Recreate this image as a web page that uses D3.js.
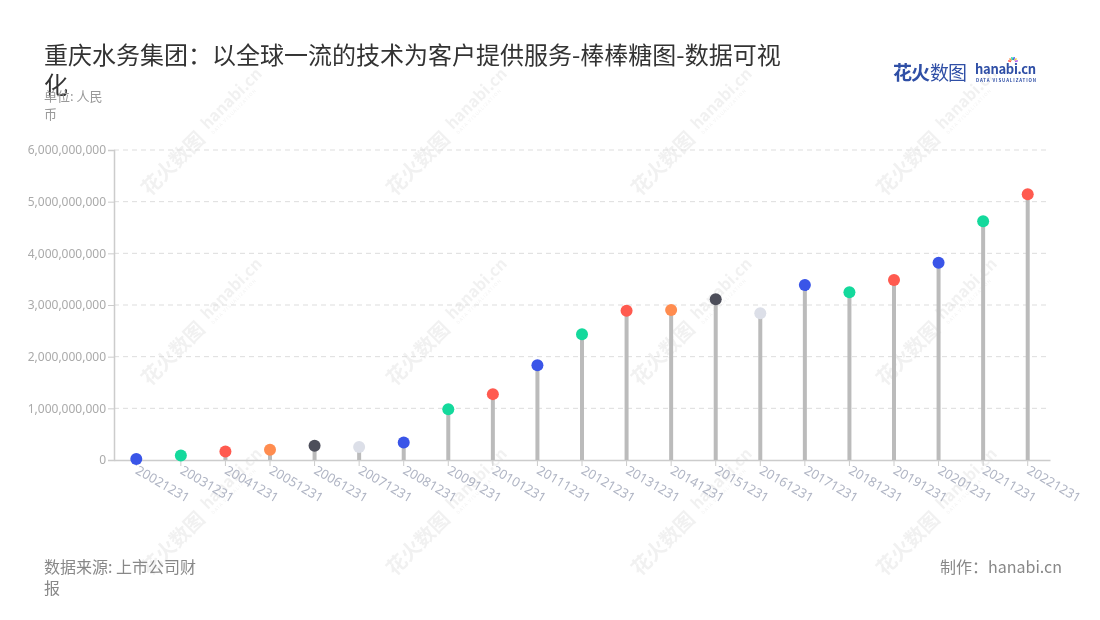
<!DOCTYPE html>
<html><head><meta charset="utf-8">
<script src="https://cdn.jsdelivr.net/npm/d3@7/dist/d3.min.js"></script>
<style>
html,body{margin:0;padding:0;background:#fff;}
svg{display:block;font-family:"Noto Sans CJK SC","Noto Sans",sans-serif;}
</style></head>
<body><svg id="c" width="1100" height="620"></svg>
<script>
const categories = ["20021231","20031231","20041231","20051231","20061231","20071231","20081231","20091231","20101231","20111231","20121231","20131231","20141231","20151231","20161231","20171231","20181231","20191231","20201231","20211231","20221231"];
const values = [20000000,85000000,165000000,200000000,275000000,250000000,340000000,980000000,1275000000,1835000000,2435000000,2890000000,2905000000,3110000000,2840000000,3385000000,3245000000,3485000000,3820000000,4620000000,5145000000];
const yTicks = [0,1000000000,2000000000,3000000000,4000000000,5000000000,6000000000];
const palette = ["#3a55e8","#14d99c","#ff5a4f","#ff8c4f","#4d4e5a","#dcdfe8","#3a55e8","#14d99c","#ff5a4f"];
const titleText = "重庆水务集团：以全球一流的技术为客户提供服务-棒棒糖图-数据可视化";
const unitText = "单位: 人民币";
const sourceText = "数据来源: 上市公司财报";
const creditText = "制作：hanabi.cn";

const svg = d3.select("#c");
const m = {left:114, right:1050, top:150, bottom:460};

function wrapText(sel, width, lineH){
  sel.each(function(){
    const t = d3.select(this);
    const chars = Array.from(t.text());
    const x = t.attr("x");
    t.text(null);
    let line = [];
    let ts = t.append("tspan").attr("x", x).attr("dy", 0);
    for (const ch of chars){
      line.push(ch);
      ts.text(line.join(""));
      if (ts.node().getComputedTextLength() > width && line.length > 1){
        line.pop();
        ts.text(line.join(""));
        line = [ch];
        ts = t.append("tspan").attr("x", x).attr("dy", lineH).text(ch);
      }
    }
  });
}

// watermark
const wm = svg.append("g").attr("opacity", 0.07);
for (let j=0;j<3;j++){
  for (let i=0;i<4;i++){
    const cx = 185 + 245*i, cy = 150 + 190*j;
    const g = wm.append("g").attr("transform", `translate(${cx},${cy}) rotate(-45)`);
    g.append("text").attr("x",-58).attr("y",8).attr("font-size",20).attr("font-weight",700).attr("fill","#333").text("花火数图");
    g.append("text").attr("x",30).attr("y",2).attr("font-size",16).attr("font-weight",700).attr("fill","#333").text("hanabi.cn");
    g.append("text").attr("x",31).attr("y",9).attr("font-size",4.5).attr("fill","#333").attr("letter-spacing",1).text("DATA VISUALIZATION");
  }
}

// title
svg.append("text").attr("x",44).attr("y",64).attr("font-size",24).attr("fill","#333")
  .text(titleText).call(wrapText, 750, 30);
svg.append("text").attr("x",44).attr("y",101).attr("font-size",13).attr("fill","#999")
  .text(unitText).call(wrapText, 68, 18);

// logo
const logo = svg.append("g");
logo.append("text").attr("x",893).attr("y",80).attr("font-size",19).attr("font-weight",700).attr("fill","#2f4fa6").attr("letter-spacing",-1).text("花火");
logo.append("text").attr("x",930).attr("y",80).attr("font-size",19).attr("fill","#2f4fa6").attr("letter-spacing",-1).text("数图");
logo.append("text").attr("x",975).attr("y",74).attr("font-size",13).attr("font-weight",700).attr("fill","#2f4fa6").attr("letter-spacing",-0.3).text("hanabi.cn");
logo.append("text").attr("x",976).attr("y",81.5).attr("font-size",4.4).attr("font-weight",700).attr("fill","#2f4fa6").attr("letter-spacing",0.9).text("DATA VISUALIZATION");
const spark = ["#ff5a4f","#ff8c4f","#14d99c","#3a55e8","#f7c744","#b45cf0"];
spark.forEach((c,i)=>{
  const a = -Math.PI + (i+0.5)*Math.PI/6;
  logo.append("line").attr("x1",1013+Math.cos(a)*2).attr("y1",62+Math.sin(a)*2)
    .attr("x2",1013+Math.cos(a)*5).attr("y2",62+Math.sin(a)*5).attr("stroke",c).attr("stroke-width",1.5);
});

// scales
const x = d3.scaleBand().domain(categories).range([m.left, m.right]).padding(0);
const y = d3.scaleLinear().domain([0, 6000000000]).range([m.bottom, m.top]);

// grid
svg.append("g").selectAll("line").data(yTicks.filter(d=>d>0)).join("line")
  .attr("x1",m.left).attr("x2",m.right).attr("y1",d=>y(d)).attr("y2",d=>y(d))
  .attr("stroke","#ddd").attr("stroke-dasharray","5,4");

// y axis
const ya = svg.append("g").attr("transform",`translate(${m.left},0)`)
  .call(d3.axisLeft(y).tickValues(yTicks).tickFormat(d3.format(",")).tickSize(6).tickPadding(2));
ya.select(".domain").attr("stroke","#ccc").attr("stroke-width",1.5);
ya.selectAll(".tick line").attr("stroke","#ccc");
ya.selectAll(".tick text").attr("fill","#aaa").attr("font-size",12).attr("font-family","'Noto Sans',sans-serif");

// x axis
const xa = svg.append("g").attr("transform",`translate(0,${m.bottom})`)
  .call(d3.axisBottom(x).tickSize(6).tickSizeOuter(0));
xa.select(".domain").attr("stroke","#ccc").attr("stroke-width",1.5);
xa.selectAll(".tick line").attr("stroke","#ccc");
xa.selectAll(".tick text").attr("fill","#b0b5c4").attr("font-size",13).attr("font-family","'Noto Sans',sans-serif")
  .attr("text-anchor","start").attr("dy",0).attr("y",12).attr("x",5).attr("transform","rotate(30)");

// stems
const cx = d => x(d) + x.bandwidth()/2;
svg.append("g").selectAll("line").data(categories).join("line")
  .attr("x1",cx).attr("x2",cx).attr("y1",y(0)).attr("y2",(d,i)=>y(values[i]))
  .attr("stroke","#bbb").attr("stroke-width",4);

// dots
svg.append("g").selectAll("circle").data(categories).join("circle")
  .attr("cx",cx).attr("cy",(d,i)=>y(values[i])).attr("r",6)
  .attr("fill",(d,i)=>palette[i%palette.length]);

// footer
svg.append("text").attr("x",44).attr("y",573).attr("font-size",16).attr("fill","#888")
  .text(sourceText).call(wrapText, 158, 21);
svg.append("text").attr("x",1062).attr("y",573).attr("font-size",16).attr("fill","#888").attr("text-anchor","end")
  .text(creditText);
</script></body></html>
